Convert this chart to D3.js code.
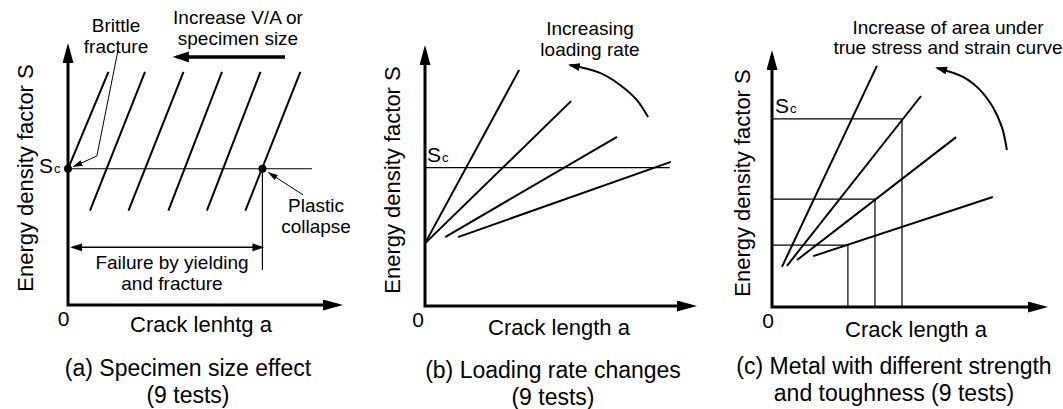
<!DOCTYPE html>
<html lang="en">
<head>
  <meta charset="UTF-8">
  <title>Energy density factor S vs crack length</title>
  <style>
    body { margin: 0; background: #fff; }
    svg { display: block; font-family: "Liberation Sans", Arial, sans-serif; }
    .axis { stroke: #000; stroke-width: 3; fill: none; }
    .test { stroke: #000; stroke-width: 2; fill: none; }
    .thin { stroke: #000; stroke-width: 1.2; fill: none; }
    .note { font-size: 19px; text-anchor: middle; }
    .atitle { font-size: 22px; text-anchor: middle; }
    .caption { font-size: 23px; text-anchor: middle; }
  </style>
</head>
<body>
  <svg width="1063" height="409"></svg>
  <script src="https://cdn.jsdelivr.net/npm/d3@7/dist/d3.min.js"></script>
  <script>
    // every value below is in axis units: crack length a (0..10), S (0..10)

    // (a) specimen size effect
    var aSc = 5.2
    var aScEnd = 8.87
    var aCollapse = 7.07
    var aSpanS = 2.2
    var aDropTo = 1.34
    var aLines = [
      [0, 5.2, 1.47, 8.9],
      [0.8, 3.6, 2.8, 8.9],
      [2.2, 3.6, 4.2, 8.9],
      [3.65, 3.6, 5.6, 8.9],
      [5.05, 3.6, 7.0, 8.9],
      [6.45, 3.6, 8.45, 8.9]
    ]
    var aIncrease = [[7.89, 9.47], [3.96, 9.47]]
    var aBrittleLeader = [[1.82, 9.73], [1.05, 5.69], [0.2, 5.28]]
    var aPlasticLeader = [[8.55, 4.2], [7.3, 5.05]]

    // (b) loading rate changes
    var bSc = 5.3
    var bScEnd = 9.0
    var bLines = [
      [0, 2.4, 3.46, 9.04],
      [0, 2.4, 5.37, 7.85],
      [0.74, 2.64, 7.06, 6.48],
      [1.21, 2.64, 9.04, 5.52]
    ]
    var bArc = [[8.2, 7.24], [7.79, 7.89], [7.17, 8.47], [6.43, 8.93], [5.33, 9.23]]

    // (c) metal with different strength and toughness
    var cLevels = [7.32, 4.2, 2.41]
    var cCrit = [4.71, 3.73, 2.75]
    var cLines = [
      [0.36, 1.56, 3.8, 9.38],
      [0.54, 1.6, 5.4, 8.21],
      [0.91, 1.83, 6.67, 6.61],
      [1.49, 1.98, 8.0, 4.28]
    ]
    var cArc = [[8.51, 6.11], [8.33, 7.0], [8.0, 7.78], [7.54, 8.44], [6.92, 8.95], [5.98, 9.3]]

    var yTitle = 'Energy density factor S'
    var xTitles = ['Crack lenhtg a', 'Crack length a', 'Crack length a']
    var captions = [
      ['(a) Specimen size effect', '(9 tests)'],
      ['(b) Loading rate changes', '(9 tests)'],
      ['(c) Metal with different strength', 'and toughness (9 tests)']
    ]

    var svg = d3.select('svg')
    var defs = svg.append('defs')

    function marker(id, len, wid, ref) {
      defs.append('marker')
        .attr('id', id)
        .attr('markerUnits', 'userSpaceOnUse')
        .attr('viewBox', '0 0 ' + len + ' ' + wid)
        .attr('markerWidth', len)
        .attr('markerHeight', wid)
        .attr('refX', ref)
        .attr('refY', wid / 2)
        .attr('orient', 'auto-start-reverse')
        .append('path')
        .attr('d', 'M0,0L' + len + ',' + wid / 2 + 'L0,' + wid + 'Z')
        .attr('fill', '#000')
    }
    marker('axHead', 20, 11, 14)
    marker('bigHead', 16, 11, 12)
    marker('midHead', 12, 8, 10)
    marker('smallHead', 10, 6, 9)

    // one frame per panel: pixel box of the 0..10 axes
    function panel(xr, yr) {
      var x = d3.scaleLinear().domain([0, 10]).range(xr)
      var y = d3.scaleLinear().domain([0, 10]).range(yr)
      var g = svg.append('g')
      g.append('path')
        .attr('class', 'axis')
        .attr('d', 'M' + x(0) + ',' + (y(10) + 6) + 'V' + y(0) + 'H' + (x(10) - 6))
        .attr('marker-start', 'url(#axHead)')
        .attr('marker-end', 'url(#axHead)')
      return { x: x, y: y, g: g }
    }

    function segs(p, data, cls) {
      p.g.selectAll(null)
        .data(data)
        .enter()
        .append('line')
        .attr('class', cls)
        .attr('x1', function(d) { return p.x(d[0]) })
        .attr('y1', function(d) { return p.y(d[1]) })
        .attr('x2', function(d) { return p.x(d[2]) })
        .attr('y2', function(d) { return p.y(d[3]) })
    }

    function pathOf(p, pts, curve) {
      return d3.line()
        .x(function(d) { return p.x(d[0]) })
        .y(function(d) { return p.y(d[1]) })
        .curve(curve || d3.curveLinear)(pts)
    }

    function texts(g, lines, cx, y0, dy, cls) {
      lines.forEach(function(t, i) {
        g.append('text').attr('class', cls)
          .attr('x', cx).attr('y', y0 + i * dy).text(t)
      })
    }

    function scLabel(g, x, y) {
      var t = g.append('text').attr('x', x).attr('y', y).style('font-size', '21px')
      t.append('tspan').text('S')
      t.append('tspan').attr('dx', 1).style('font-size', '13px').text('c')
    }

    function frameText(p, i, zeroDx, xtDx, xtY, ytX, ytY, capX, capY) {
      p.g.append('text').attr('x', p.x(0) + zeroDx).attr('y', p.y(0) + 21)
        .attr('text-anchor', 'middle').style('font-size', '21px').text('0')
      p.g.append('text').attr('class', 'atitle')
        .attr('x', p.x(0) + xtDx).attr('y', xtY).text(xTitles[i])
      p.g.append('text').attr('class', 'atitle')
        .attr('transform', 'translate(' + ytX + ',' + ytY + ') rotate(-90)')
        .text(yTitle)
      texts(p.g, captions[i], capX, capY, 27, 'caption')
    }

    // ---- (a)
    var pa = panel([68, 343], [305, 43])
    pa.g.append('line').attr('class', 'thin')
      .attr('x1', pa.x(0)).attr('x2', pa.x(aScEnd))
      .attr('y1', pa.y(aSc)).attr('y2', pa.y(aSc))
    pa.g.append('line').attr('class', 'thin')
      .attr('x1', pa.x(aCollapse)).attr('x2', pa.x(aCollapse))
      .attr('y1', pa.y(aSc)).attr('y2', pa.y(aDropTo))
    segs(pa, aLines, 'test')
    pa.g.append('path').attr('class', 'thin').style('stroke-width', 1.5)
      .attr('d', pathOf(pa, [[0.15, aSpanS], [aCollapse, aSpanS]]))
      .attr('marker-start', 'url(#midHead)')
      .attr('marker-end', 'url(#midHead)')
    pa.g.append('path').attr('class', 'axis').style('stroke-width', 3.5)
      .attr('d', pathOf(pa, aIncrease))
      .attr('marker-end', 'url(#bigHead)')
    pa.g.append('path').attr('class', 'thin').style('stroke-width', 1)
      .attr('d', pathOf(pa, aBrittleLeader))
      .attr('marker-end', 'url(#smallHead)')
    pa.g.append('path').attr('class', 'thin').style('stroke-width', 1)
      .attr('d', pathOf(pa, aPlasticLeader))
      .attr('marker-end', 'url(#smallHead)')
    pa.g.selectAll(null)
      .data([[0, aSc], [aCollapse, aSc]])
      .enter()
      .append('circle')
      .attr('cx', function(d) { return pa.x(d[0]) })
      .attr('cy', function(d) { return pa.y(d[1]) })
      .attr('r', 4)
    scLabel(pa.g, 39, pa.y(aSc) + 4)
    texts(pa.g, ['Brittle', 'fracture'], 116, 32, 21, 'note')
    texts(pa.g, ['Increase V/A or', 'specimen size'], 238, 24, 21, 'note')
    texts(pa.g, ['Plastic', 'collapse'], 316, 212, 21, 'note')
    texts(pa.g, ['Failure by yielding', 'and fracture'], 172, 269, 21, 'note')
    frameText(pa, 0, -4.5, 133, 332, 33, 178, 188, 376)

    // ---- (b)
    var pb = panel([425, 697], [306, 45])
    pb.g.append('line').attr('class', 'thin')
      .attr('x1', pb.x(0)).attr('x2', pb.x(bScEnd))
      .attr('y1', pb.y(bSc)).attr('y2', pb.y(bSc))
    segs(pb, bLines, 'test')
    pb.g.append('path').attr('class', 'test')
      .attr('d', pathOf(pb, bArc, d3.curveCatmullRom))
      .attr('marker-end', 'url(#midHead)')
    scLabel(pb.g, 427, pb.y(bSc) - 6)
    texts(pb.g, ['Increasing', 'loading rate'], 590, 35, 21, 'note')
    frameText(pb, 1, -7, 134, 335, 400, 180, 553, 378)

    // ---- (c)
    var pc = panel([772, 1048], [307, 50])
    pc.g.selectAll(null)
      .data(cLevels)
      .enter()
      .append('path')
      .attr('class', 'thin')
      .attr('d', function(s, i) {
        return pathOf(pc, [[0, s], [cCrit[i], s], [cCrit[i], 0]])
      })
    segs(pc, cLines, 'test')
    pc.g.append('path').attr('class', 'test')
      .attr('d', pathOf(pc, cArc, d3.curveCatmullRom))
      .attr('marker-end', 'url(#midHead)')
    scLabel(pc.g, 775, pc.y(cLevels[0]) - 6)
    texts(pc.g, ['Increase of area under', 'true stress and strain curve'], 948, 34, 20, 'note')
    frameText(pc, 2, -4, 144, 337, 750, 183, 894, 374)
  </script>
</body>
</html>
